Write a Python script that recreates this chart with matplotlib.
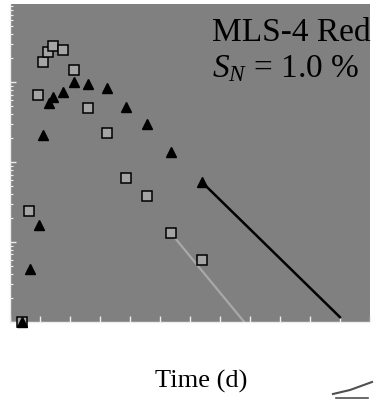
import numpy as np
import matplotlib
matplotlib.use("Agg")
import matplotlib.pyplot as plt

plt.rcParams['font.family'] = ['Liberation Serif', 'DejaVu Serif']
plt.rcParams['mathtext.fontset'] = 'custom'
plt.rcParams['mathtext.rm'] = 'Liberation Serif'
plt.rcParams['mathtext.it'] = 'Liberation Serif:italic'

# time in tick units, values on log scale
tSquare = [0.4, 0.63, 0.93, 1.1, 1.27, 1.43, 1.77, 2.13, 2.6, 3.23, 3.87, 4.57, 5.37, 6.4]
logSquare = [0.0, 1.39, 2.84, 3.26, 3.375, 3.46, 3.4, 3.15, 2.675, 2.36, 1.8, 1.575, 1.11, 0.775]

tTri = [0.4, 0.67, 0.97, 1.1, 1.3, 1.43, 1.77, 2.13, 2.6, 3.23, 3.87, 4.57, 5.37, 6.4]
logTri = [0.0, 0.66, 1.21, 2.34, 2.74, 2.81, 2.875, 3.01, 2.975, 2.925, 2.69, 2.475, 2.125, 1.75]

# decay fits (start and end points)
fitTriT = [6.4, 11.0]
fitTriLog = [1.75, 0.06]
fitSqT = [5.37, 7.83]
fitSqLog = [1.11, -0.01]

ySquare = 10 ** np.array(logSquare)
yTri = 10 ** np.array(logTri)

fig = plt.figure(figsize=(3.75, 4.01), dpi=100)
ax = fig.add_axes([10 / 375, 79 / 401, 360 / 375, 318 / 401])
ax.set_facecolor('#808080')

ax.plot(fitSqT, 10 ** np.array(fitSqLog), color='#a8a8a8', lw=1.6, zorder=2)
ax.plot(fitTriT, 10 ** np.array(fitTriLog), color='black', lw=1.8, zorder=2)

ax.plot(tSquare, ySquare, 's', ms=6.8, mfc='#a4a4a4', mec='black', mew=1.1,
        clip_on=False, zorder=3)
ax.plot(tTri, yTri, '^', ms=7, mfc='black', mec='black', clip_on=False, zorder=4)

ax.set_yscale('log')
ax.set_xlim(0, 12)
ax.set_ylim(1, 10 ** 3.98)
ax.set_xticks(np.arange(0, 13, 1))
ax.set_xticklabels([])
ax.set_yticklabels([], minor=True)
ax.set_yticklabels([])

for s in ['top', 'right']:
    ax.spines[s].set_visible(False)
for s in ['left', 'bottom']:
    ax.spines[s].set_color('#eeeeee')
    ax.spines[s].set_linewidth(1.0)
ax.tick_params(which='major', direction='in', color='#eeeeee', length=4, width=1)
ax.tick_params(which='minor', direction='in', color='#eeeeee', length=2, width=0.8)

ax.text(0.56, 0.884, 'MLS-4 Red', transform=ax.transAxes, fontsize=24,
        ha='left', va='baseline', clip_on=False)
ax.text(0.56, 0.770, '$S_N$ = 1.0 %', transform=ax.transAxes, fontsize=24,
        ha='left', va='baseline')

fig.text(201 / 375, 1 - 388 / 401, 'Time (d)', fontsize=19, ha='center', va='baseline')

# small scribble in the lower right corner
fig.add_artist(plt.Line2D([333 / 375, 350 / 375, 372 / 375], [1 - 394 / 401, 1 - 390 / 401, 1 - 382 / 401],
                          color='#505050', lw=1.5))
fig.add_artist(plt.Line2D([336 / 375, 368 / 375], [1 - 398 / 401, 1 - 398 / 401],
                          color='#505050', lw=1.2))

fig.savefig('out.png', dpi=100)
